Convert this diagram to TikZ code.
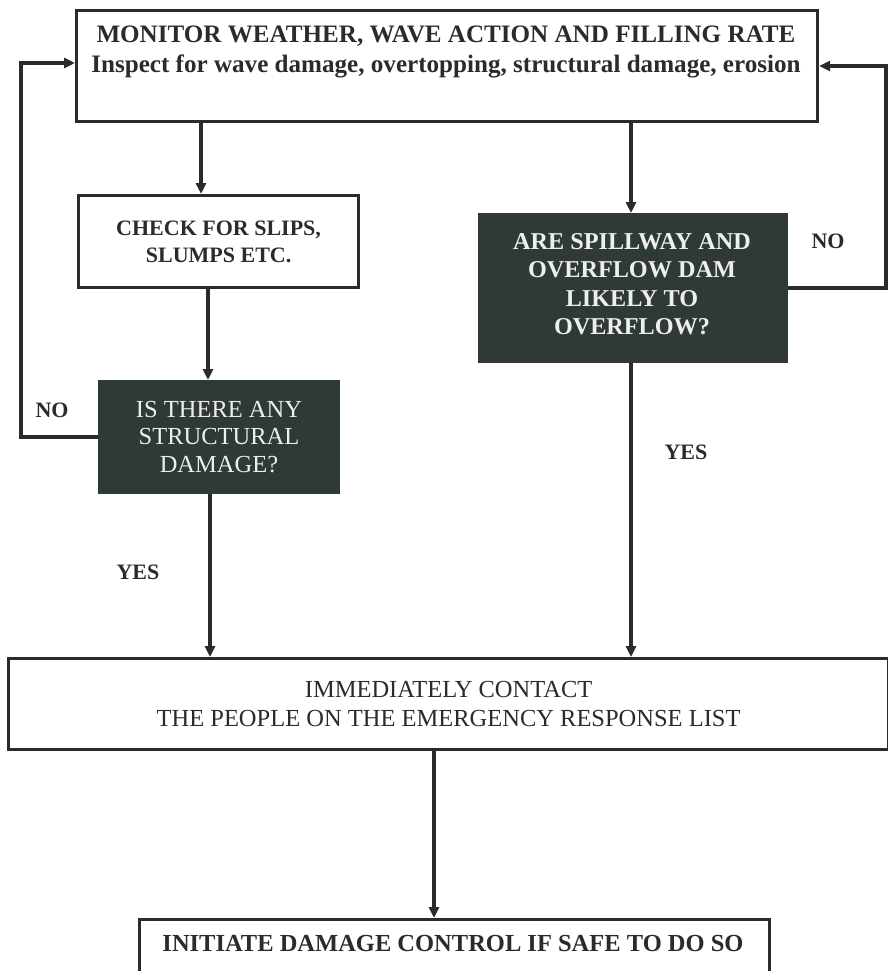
\documentclass[tikz,border=0pt]{standalone}
\usepackage{fontspec}
\setmainfont{Liberation Serif}
\usetikzlibrary{arrows.meta}
\definecolor{ink}{HTML}{2B2B2B}
\definecolor{darkfill}{HTML}{2F3935}
\definecolor{lighttext}{HTML}{EEEEEE}
\tikzset{
  box/.style={draw=ink, line width=3.2pt, fill=white, rectangle, inner sep=0pt, anchor=north west},
  darkbox/.style={draw=darkfill, line width=2pt, fill=darkfill, rectangle, inner sep=0pt, anchor=north west, text=lighttext, align=center},
  conn/.style={draw=ink, line width=3.2pt},
  arr/.style={conn, -{Triangle[length=11pt,width=10pt]}},
  boldtxt/.style={font=\fontsize{24.5}{29}\selectfont\bfseries, text=ink, align=center, inner sep=0pt},
  regtxt/.style={font=\fontsize{24.5}{29}\selectfont, text=ink, align=center, inner sep=0pt},
  lbl/.style={font=\fontsize{22}{26}\selectfont\bfseries, text=ink, inner sep=0pt}
}
\begin{document}
\begin{tikzpicture}[x=1pt,y=-1pt]
\useasboundingbox[fill=white] (0,0) rectangle (888,971);
% boxes
\node[box, minimum width=741pt, minimum height=111pt] (top) at (75,9) {};
\node[boldtxt, font=\fontsize{25.1}{29.5}\selectfont\bfseries] (toptext) at (446,52) {MONITOR WEATHER, WAVE ACTION AND FILLING RATE\\Inspect for wave damage, overtopping, structural damage, erosion};
\node[box, minimum width=280pt, minimum height=92pt, boldtxt, font=\fontsize{22}{27}\selectfont\bfseries] (check) at (77,194) {CHECK FOR SLIPS,\\SLUMPS ETC.};
\node[darkbox, minimum width=240pt, minimum height=112pt, font=\fontsize{24.5}{27.5}\selectfont] (dark1) at (98,380) {IS THERE ANY\\STRUCTURAL\\DAMAGE?};
\node[darkbox, minimum width=308pt, minimum height=148pt] (dark2) at (478,213) {};
\node[darkbox, anchor=center, draw=none, fill=none, font=\fontsize{24.2}{28.5}\selectfont\bfseries] (dark2text) at (632,284) {ARE SPILLWAY AND\\OVERFLOW DAM\\LIKELY TO\\OVERFLOW?};
\node[box, minimum width=880pt, minimum height=91pt, regtxt] (contact) at (7,657) {IMMEDIATELY CONTACT\\THE PEOPLE ON THE EMERGENCY RESPONSE LIST};
\node[box, minimum width=630pt, minimum height=80pt] (bottom) at (138,918) {};
\node[boldtxt] (bottomtext) at (453,943) {INITIATE DAMAGE CONTROL IF SAFE TO DO SO};
% labels
\node[lbl] (no1) at (52,410) {NO};
\node[lbl] (yes1) at (138,572) {YES};
\node[lbl] (no2) at (828,241) {NO};
\node[lbl] (yes2) at (686,452) {YES};
% connectors
\draw[arr] (201,0 |- top.south) -- (201,0 |- check.north);
\draw[arr] (208,0 |- check.south) -- (208,0 |- dark1.north);
\draw[arr] (210,0 |- dark1.south) -- (210,0 |- contact.north);
\draw[arr] (dark1.west) -| (21,63) -- (top.west |- 21,63);
\draw[arr] (631,0 |- top.south) -- (631,0 |- dark2.north);
\draw[arr] (631,0 |- dark2.south) -- (631,0 |- contact.north);
\draw[arr] (dark2.east) -| (886,66) -- (top.east |- 886,66);
\draw[arr] (434,0 |- contact.south) -- (434,0 |- bottom.north);
\end{tikzpicture}
\end{document}
